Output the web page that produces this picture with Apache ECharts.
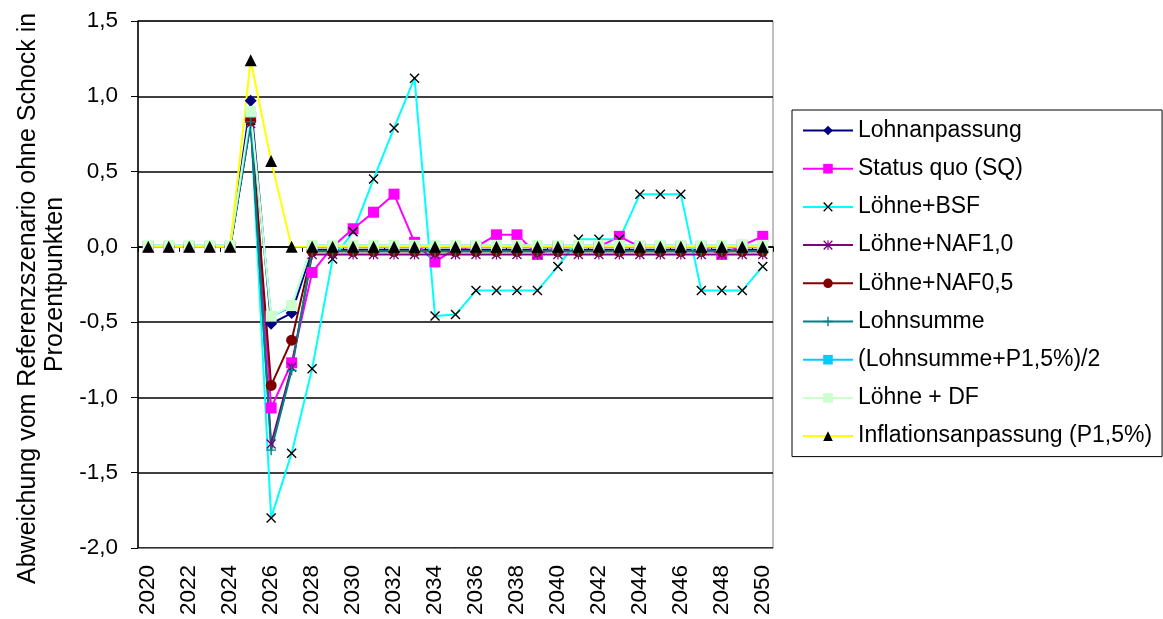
<!DOCTYPE html>
<html>
<head>
<meta charset="utf-8">
<script src="https://cdn.jsdelivr.net/npm/echarts@6/dist/echarts.min.js"></script>
<style>
html,body{margin:0;padding:0;background:#fff;}
#c{width:1163px;height:619px;}
</style>
</head>
<body>
<div id="c"></div>
<script>
var years = [];
for (var y = 2020; y <= 2050; y++) years.push(String(y));

var yTicks = [-2.0, -1.5, -1.0, -0.5, 0.0, 0.5, 1.0, 1.5];

var lohnanpassung = [0,0,0,0,0, 0.97,-0.51,-0.44, -0.02,-0.02,-0.02,-0.02,-0.02,-0.02,-0.02,-0.02,-0.02,-0.02,-0.02,-0.02,-0.02,-0.02,-0.02,-0.02,-0.02,-0.02,-0.02,-0.02,-0.02,-0.02,-0.02];
var statusQuo = [0,0,0,0,0, 0.86,-1.07,-0.77, -0.17,0.0,0.12,0.23,0.35,0.03,-0.10,-0.01,0.0,0.08,0.08,-0.05,0.0,0.0,0.0,0.07,0.0,0.0,0.0,0.0,-0.05,0.01,0.07];
var loehneBSF = [0,0,0,0,0, 0.84,-1.80,-1.37, -0.81,-0.08,0.10,0.45,0.79,1.12,-0.46,-0.45,-0.29,-0.29,-0.29,-0.29,-0.13,0.05,0.05,0.05,0.35,0.35,0.35,-0.29,-0.29,-0.29,-0.13];
var loehneNAF10 = [0,0,0,0,0, 0.82,-1.31,-0.80, -0.05,-0.05,-0.05,-0.05,-0.05,-0.05,-0.05,-0.05,-0.05,-0.05,-0.05,-0.05,-0.05,-0.05,-0.05,-0.05,-0.05,-0.05,-0.05,-0.05,-0.05,-0.05,-0.05];
var loehneNAF05 = [0,0,0,0,0, 0.84,-0.92,-0.62, -0.03,-0.03,-0.03,-0.03,-0.03,-0.03,-0.03,-0.03,-0.03,-0.03,-0.03,-0.03,-0.03,-0.03,-0.03,-0.03,-0.03,-0.03,-0.03,-0.03,-0.03,-0.03,-0.03];
var lohnsumme = [0,0,0,0,0, 0.83,-1.35,-0.82, -0.03,-0.03,-0.03,-0.03,-0.03,-0.03,-0.03,-0.03,-0.03,-0.03,-0.03,-0.03,-0.03,-0.03,-0.03,-0.03,-0.03,-0.03,-0.03,-0.03,-0.03,-0.03,-0.03];
var lohnsummeP15 = [0.01,0.01,0.01,0.01,0.01, 0.87,-0.46,-0.40, 0.01,0.01,0.01,0.01,0.01,0.01,0.01,0.01,0.01,0.01,0.01,0.01,0.01,0.01,0.01,0.01,0.01,0.01,0.01,0.01,0.01,0.01,0.01];
var loehneDF = [0.01,0.01,0.01,0.01,0.01, 0.90,-0.46,-0.39, 0.01,0.01,0.01,0.01,0.01,0.01,0.01,0.01,0.01,0.01,0.01,0.01,0.01,0.01,0.01,0.01,0.01,0.01,0.01,0.01,0.01,0.01,0.01];
var inflation = [0,0,0,0,0, 1.24,0.57,0.0, 0,0,0,0,0,0,0,0,0,0,0,0,0,0,0,0,0,0,0,0,0,0,0];

var seriesNames = ['Lohnanpassung','Status quo (SQ)','Löhne+BSF','Löhne+NAF1,0','Löhne+NAF0,5','Lohnsumme','(Lohnsumme+P1,5%)/2','Löhne + DF','Inflationsanpassung (P1,5%)'];
var yTitleLine1 = 'Abweichung vom Referenzszenario ohne Schock in';
var yTitleLine2 = 'Prozentpunkten';

var FONT = "'Liberation Sans', Arial, sans-serif";
var X_SYM = 'path://M0,1 L1,0 L5,4 L9,0 L10,1 L6,5 L10,9 L9,10 L5,6 L1,10 L0,9 L4,5 Z';
var AST_SYM = 'path://M0,1 L1,0 L5,4 L9,0 L10,1 L6,5 L10,9 L9,10 L5,6 L1,10 L0,9 L4,5 Z M4.4,0 L5.6,0 L5.6,10 L4.4,10 Z';
var PLUS_SYM = 'path://M4.3,0 L5.7,0 L5.7,4.3 L10,4.3 L10,5.7 L5.7,5.7 L5.7,10 L4.3,10 L4.3,5.7 L0,5.7 L0,4.3 L4.3,4.3 Z';

function mk(name, data, lineColor, markColor, symbol, size) {
  return {
    name: name, type: 'line', data: data,
    symbol: symbol, symbolSize: size,
    showAllSymbol: true,
    lineStyle: {color: lineColor, width: 2},
    itemStyle: {color: markColor, borderWidth: 0},
    emphasis: {disabled: true},
    animation: false
  };
}

var series = [
  mk(seriesNames[0], lohnanpassung, '#000080', '#000080', 'diamond', [12,12]),
  mk(seriesNames[1], statusQuo, '#FF00FF', '#FF00FF', 'rect', [11,11]),
  mk(seriesNames[2], loehneBSF, '#00FFFF', '#000000', X_SYM, [10,10]),
  mk(seriesNames[3], loehneNAF10, '#800080', '#800080', AST_SYM, [10,10]),
  mk(seriesNames[4], loehneNAF05, '#800000', '#800000', 'circle', [11,11]),
  mk(seriesNames[5], lohnsumme, '#008080', '#008080', PLUS_SYM, [10,10]),
  mk(seriesNames[6], lohnsummeP15, '#00CCFF', '#00CCFF', 'rect', [10,4]),
  mk(seriesNames[7], loehneDF, '#CCFFCC', '#CCFFCC', 'rect', [11,11]),
  mk(seriesNames[8], inflation, '#FFFF00', '#000000', 'triangle', [12,12])
];

var chart = echarts.init(document.getElementById('c'), null, {renderer: 'canvas'});
chart.setOption({
  animation: false,
  backgroundColor: '#ffffff',
  textStyle: {fontFamily: FONT},
  grid: {left: 138, right: 390, top: 21, bottom: 71, show: true, borderColor: '#808080', borderWidth: 1, backgroundColor: 'transparent', containLabel: false, outerBoundsMode: 'none'},
  legend: {
    orient: 'vertical', left: 792, top: 110,
    data: seriesNames,
    itemWidth: 50, itemHeight: 12, itemGap: 15.2,
    padding: [9, 10, 9, 10],
    borderColor: '#000000', borderWidth: 1,
    textStyle: {fontFamily: FONT, fontSize: 23, color: '#000', lineHeight: 23},
    selectedMode: false
  },
  xAxis: [{
    type: 'category', data: years, boundaryGap: true, position: 'bottom',
    axisLine: {show: true, onZero: false, lineStyle: {color: '#808080', width: 1}},
    axisTick: {show: false},
    axisLabel: {rotate: 90, interval: 1, fontSize: 22.5, color: '#000', fontFamily: FONT, margin: 17},
    splitLine: {show: false}
  }, {
    type: 'category', data: years, boundaryGap: true, position: 'bottom',
    axisLine: {show: true, onZero: true, lineStyle: {color: '#000', width: 1.5}},
    axisTick: {show: true, length: 5, lineStyle: {color: '#000'}},
    axisLabel: {show: false},
    splitLine: {show: false}
  }],
  yAxis: {
    type: 'value', min: -2, max: 1.5, interval: 0.5,
    name: yTitleLine1 + '\u00a0\u00a0\u00a0\u00a0\n' + yTitleLine2,
    nameLocation: 'middle', nameRotate: 90, nameGap: 67,
    nameTextStyle: {fontSize: 25, color: '#000', fontFamily: FONT, lineHeight: 27},
    axisLine: {show: true, lineStyle: {color: '#000', width: 1.5}},
    axisTick: {show: true, length: 7, inside: false, lineStyle: {color: '#000'}},
    axisLabel: {fontSize: 22.5, color: '#000', fontFamily: FONT, margin: 20,
      formatter: function (v) { return v.toFixed(1).replace('.', ','); }},
    splitLine: {show: true, lineStyle: {color: '#000', width: 1.5}}
  },
  series: series
});
</script>
</body>
</html>
